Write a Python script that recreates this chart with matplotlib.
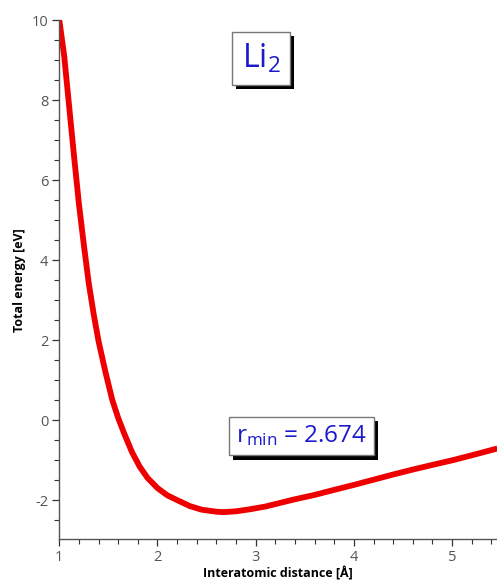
import matplotlib
matplotlib.use('Agg')
import matplotlib.pyplot as plt
import matplotlib.patheffects as pe
from matplotlib.ticker import MultipleLocator

# Li2 potential energy curve
r = [1.0, 1.05, 1.1, 1.15, 1.2, 1.25, 1.3, 1.35, 1.4, 1.47, 1.54, 1.6, 1.66,
     1.74, 1.82, 1.9, 2.0, 2.1, 2.2, 2.33, 2.45, 2.6, 2.674, 2.8, 2.94, 3.1,
     3.38, 3.6, 3.79, 4.0, 4.2, 4.4, 4.61, 4.8, 5.01, 5.2, 5.46]
energy = [10.0, 9.1, 7.85, 6.6, 5.4, 4.38, 3.42, 2.65, 1.97, 1.2, 0.5, 0.05,
          -0.33, -0.8, -1.17, -1.45, -1.7, -1.88, -2.0, -2.15, -2.24, -2.29,
          -2.30, -2.28, -2.23, -2.16, -1.99, -1.87, -1.75, -1.62, -1.49, -1.36,
          -1.23, -1.12, -1.0, -0.88, -0.71]
r_min = 2.674
molecule = 'Li$_2$'

plt.rcParams['font.family'] = ['Open Sans', 'DejaVu Sans']
plt.rcParams['mathtext.default'] = 'regular'
plt.rcParams['axes.unicode_minus'] = False

fig = plt.figure(figsize=(4.97, 5.85), dpi=100)
ax = fig.add_axes([0.1193, 0.0781, 0.8807, 0.8877])

ax.plot(r, energy, color='#ee0000', linewidth=4.2, solid_capstyle='butt')

ax.set_xlim(1, 5.457)
ax.set_ylim(-2.98, 10)
ax.xaxis.set_major_locator(MultipleLocator(1))
ax.xaxis.set_minor_locator(MultipleLocator(0.2))
ax.yaxis.set_major_locator(MultipleLocator(2))
ax.yaxis.set_minor_locator(MultipleLocator(0.5))

for side in ['top', 'right']:
    ax.spines[side].set_visible(False)
for side in ['left', 'bottom']:
    ax.spines[side].set_color('#555555')
    ax.spines[side].set_linewidth(1.0)

ax.tick_params(which='major', direction='out', length=5, width=0.9,
               color='#333333', labelcolor='#555555', labelsize=10.5, pad=3)
ax.tick_params(which='minor', direction='out', length=3.5, width=0.8,
               color='#333333')

ax.set_xlabel('Interatomic distance [Å]', fontsize=9, fontweight='bold', labelpad=1)
ax.set_ylabel('Total energy [eV]', fontsize=9, fontweight='bold', labelpad=4)

shadow = [pe.SimplePatchShadow(offset=(3, -3), shadow_rgbFace='black', alpha=1.0),
          pe.Normal()]

t1 = ax.text(3.054, 9.04, molecule, color='#1a1acc', fontsize=23,
             ha='center', va='center',
             bbox=dict(boxstyle='square,pad=0.3', fc='white', ec='#777777', lw=1))
t1.get_bbox_patch().set_path_effects(shadow)

t2 = ax.text(3.466, -0.40, 'r$_{min}$ = ' + f'{r_min:.3f}', color='#1a1acc',
             fontsize=17.5, ha='center', va='center',
             bbox=dict(boxstyle='square,pad=0.28', fc='white', ec='#777777', lw=1))
t2.get_bbox_patch().set_path_effects(shadow)

fig.savefig('out.png', dpi=100)
